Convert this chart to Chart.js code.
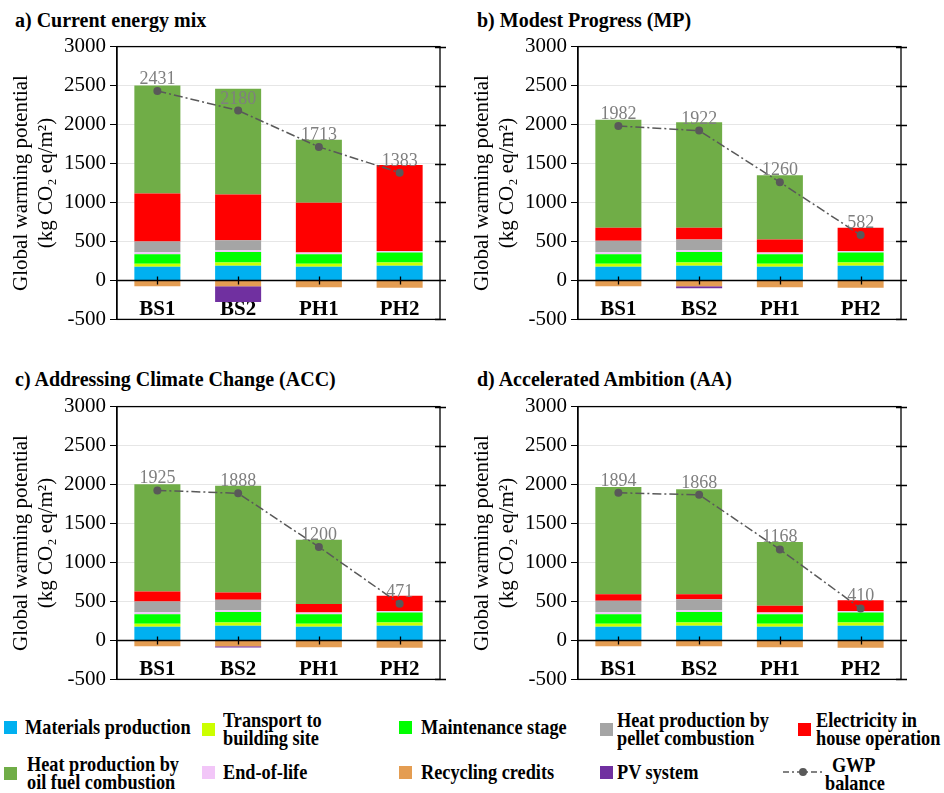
<!DOCTYPE html>
<html>
<head>
<meta charset="utf-8">
<script src="https://cdn.jsdelivr.net/npm/chart.js@4.4.1/dist/chart.umd.min.js"></script>
<style>
  body { margin: 0; background: #fff; }
  #page { position: relative; width: 944px; height: 793px; overflow: hidden;
          font-family: 'Liberation Serif', 'Times New Roman', serif; color: #000; }
  .title { position: absolute; font-weight: bold; font-size: 20px; line-height: 20px; white-space: nowrap; }
  canvas { position: absolute; }
  .lg { position: absolute; font-weight: bold; font-size: 21px; line-height: 18px; white-space: nowrap;
        transform: scaleX(0.87); transform-origin: 0 50%; }
  .sw { position: absolute; width: 13px; height: 13px; }
  svg { position: absolute; }
</style>
</head>
<body>
<div id="page">
  <div class="title" style="left:15px; top:10px;">a) Current energy mix</div>
  <div class="title" style="left:477px; top:10px;">b) Modest Progress (MP)</div>
  <div class="title" style="left:15px; top:369px;">c) Addressing Climate Change (ACC)</div>
  <div class="title" style="left:477px; top:369px;">d) Accelerated Ambition (AA)</div>
  <canvas id="panelA" width="450" height="306" style="left:0px; top:30px;"></canvas>
  <canvas id="panelB" width="450" height="306" style="left:461px; top:30px;"></canvas>
  <canvas id="panelC" width="450" height="306" style="left:0px; top:390px;"></canvas>
  <canvas id="panelD" width="450" height="306" style="left:461px; top:390px;"></canvas>
  <div id="legend"></div>
</div>
<script>
// Building variants on the x axis
const categories = ['BS1', 'BS2', 'PH1', 'PH2'];
const yTickValues = [-500, 0, 500, 1000, 1500, 2000, 2500, 3000];

// Life-cycle stages shared by every energy scenario (kg CO2 eq/m2)
const materialsProduction = [175, 188, 175, 188];
const transportToSite     = [40, 42, 40, 42];
const maintenanceStage    = [120, 135, 120, 128];
const endOfLife           = [25, 22, 22, 21];
const recyclingCredits    = [-76, -76, -88, -93];

// a) Current energy mix
const pelletCurrent      = [140, 130, 0, 0];
const electricityCurrent = [615, 585, 639, 1101];
const oilCurrent         = [1387, 1357, 810, 0];
const pvCurrent          = [0, -200, 0, 0];
const gwpCurrent         = [2431, 2180, 1713, 1383];

// b) Modest Progress
const pelletMP      = [148, 138, 0, 0];
const electricityMP = [169, 152, 168, 298];
const oilMP         = [1383, 1353, 825, 0];
const pvMP          = [0, -25, 0, 0];
const gwpMP         = [1982, 1922, 1260, 582];

// c) Addressing Climate Change
const pelletACC      = [140, 134, 0, 0];
const electricityACC = [127, 94, 109, 193];
const oilACC         = [1378, 1369, 827, 0];
const pvACC          = [0, -15, 0, 0];
const gwpACC         = [1925, 1888, 1200, 471];

// d) Accelerated Ambition
const pelletAA      = [148, 142, 0, 0];
const electricityAA = [84, 63, 87, 136];
const oilAA         = [1378, 1348, 818, 0];
const pvAA          = [0, 0, 0, 0];
const gwpAA         = [1894, 1868, 1168, 410];

const FONT = "'Liberation Serif', 'Times New Roman', serif";
const COLORS = {
  materials: '#00B0F0', transport: '#CCFF00', maintenance: '#00FF00',
  pellet: '#A5A5A5', electricity: '#FF0000', oil: '#70AD47',
  eol: '#F2C6F8', recycling: '#E49D52', pv: '#7030A0', gwp: '#595959'
};

function bar(label, data, color) {
  return { type: 'bar', label, data, backgroundColor: color, borderWidth: 0, stack: 'bars', order: 1 };
}

function buildDatasets(s) {
  return [
    bar('Materials production', materialsProduction, COLORS.materials),
    bar('Transport to building site', transportToSite, COLORS.transport),
    bar('Maintenance stage', maintenanceStage, COLORS.maintenance),
    bar('End-of-life', endOfLife, COLORS.eol),
    bar('Heat production by pellet combustion', s.pellet, COLORS.pellet),
    bar('Electricity in house operation', s.electricity, COLORS.electricity),
    bar('Heat production by oil fuel combustion', s.oil, COLORS.oil),
    bar('Recycling credits', recyclingCredits, COLORS.recycling),
    bar('PV system', s.pv, COLORS.pv),
    {
      type: 'line', label: 'GWP balance', data: s.gwp, stack: 'gwp', order: 0,
      borderColor: COLORS.gwp, borderWidth: 1.5, borderDash: [9, 3, 2, 3], tension: 0,
      pointRadius: 4, pointBackgroundColor: COLORS.gwp, pointBorderWidth: 0, fill: false
    }
  ];
}

// Box around the plot, zero line, crossing ticks on the right edge and at each category
const framePlugin = {
  id: 'frame',
  afterDraw(chart) {
    const { ctx, chartArea: a, scales: { x, y } } = chart;
    ctx.save();
    ctx.strokeStyle = '#000';
    ctx.lineWidth = 1.3;
    ctx.strokeRect(a.left, a.top, a.right - a.left, a.bottom - a.top);
    const y0 = Math.round(y.getPixelForValue(0)) + 0.5;
    ctx.beginPath();
    ctx.moveTo(a.left, y0); ctx.lineTo(a.right, y0);
    y.ticks.forEach(t => {
      const py = Math.round(y.getPixelForValue(t.value)) + 0.5;
      ctx.moveTo(a.right - 5, py); ctx.lineTo(a.right + 6, py);
    });
    x.ticks.forEach((t, i) => {
      const px = Math.round(x.getPixelForTick(i)) + 0.5;
      ctx.moveTo(px, y0 - 4); ctx.lineTo(px, y0 + 4);
    });
    ctx.stroke();
    ctx.restore();
  }
};

// Numeric GWP balance written above each point of the line
const valueLabelPlugin = {
  id: 'valueLabels',
  afterDatasetsDraw(chart) {
    const { ctx } = chart;
    chart.data.datasets.forEach((ds, di) => {
      if (ds.type !== 'line') return;
      const meta = chart.getDatasetMeta(di);
      ctx.save();
      ctx.font = '18px ' + FONT;
      ctx.fillStyle = '#7F7F7F';
      ctx.textAlign = 'center';
      ctx.textBaseline = 'alphabetic';
      meta.data.forEach((pt, i) => ctx.fillText(String(ds.data[i]), pt.x, pt.y - 7));
      ctx.restore();
    });
  }
};

function makePanel(id, series) {
  new Chart(document.getElementById(id), {
    type: 'bar',
    data: { labels: categories, datasets: buildDatasets(series) },
    options: {
      responsive: false, animation: false, devicePixelRatio: 1,
      layout: { padding: { top: 16, bottom: 16, left: 0, right: 10 } },
      plugins: { legend: { display: false }, tooltip: { enabled: false } },
      datasets: { bar: { barPercentage: 0.57, categoryPercentage: 1.0 } },
      scales: {
        x: {
          position: { y: 0 }, stacked: true,
          grid: { display: false, drawTicks: false },
          border: { display: false },
          ticks: { color: '#000', font: { family: FONT, size: 21, weight: 'bold' }, padding: 17, maxRotation: 0 }
        },
        y: {
          stacked: true, min: -500, max: 3000,
          afterBuildTicks: s => { s.ticks = yTickValues.map(v => ({ value: v })); },
          afterFit: s => { s.width = 117; },
          ticks: { color: '#000', font: { family: FONT, size: 21 }, padding: 4, callback: v => String(v) },
          grid: { color: '#E6E6E6', lineWidth: 1, tickColor: '#000', tickLength: 7 },
          border: { display: true, color: '#000', width: 1.3 },
          title: {
            display: true, color: '#000',
            text: ['Global warming potential', '(kg CO\u2082 eq/m\u00B2)'],
            font: { family: FONT, size: 21 }, padding: { top: 9, bottom: 0 }
          }
        }
      }
    },
    plugins: [framePlugin, valueLabelPlugin]
  });
}

makePanel('panelA', { pellet: pelletCurrent, electricity: electricityCurrent, oil: oilCurrent, pv: pvCurrent, gwp: gwpCurrent });
makePanel('panelB', { pellet: pelletMP, electricity: electricityMP, oil: oilMP, pv: pvMP, gwp: gwpMP });
makePanel('panelC', { pellet: pelletACC, electricity: electricityACC, oil: oilACC, pv: pvACC, gwp: gwpACC });
makePanel('panelD', { pellet: pelletAA, electricity: electricityAA, oil: oilAA, pv: pvAA, gwp: gwpAA });

// Shared legend below the four panels
const legendItems = [
  { lines: ['Materials production'], color: COLORS.materials, sx: 4, tx: 25, cy: 727 },
  { lines: ['Transport to', 'building site'], color: COLORS.transport, sx: 202, tx: 223, cy: 729 },
  { lines: ['Maintenance stage'], color: COLORS.maintenance, sx: 399, tx: 421, cy: 727 },
  { lines: ['Heat production by', 'pellet combustion'], color: COLORS.pellet, sx: 600, tx: 617, cy: 729 },
  { lines: ['Electricity in', 'house operation'], color: COLORS.electricity, sx: 798, tx: 816, cy: 729 },
  { lines: ['Heat production by', 'oil fuel combustion'], color: COLORS.oil, sx: 4, tx: 27, cy: 773 },
  { lines: ['End-of-life'], color: COLORS.eol, sx: 202, tx: 223, cy: 772 },
  { lines: ['Recycling credits'], color: COLORS.recycling, sx: 399, tx: 421, cy: 772 },
  { lines: ['PV system'], color: COLORS.pv, sx: 600, tx: 617, cy: 772 }
];
const legend = document.getElementById('legend');
legendItems.forEach(it => {
  const sw = document.createElement('div');
  sw.className = 'sw';
  sw.style.left = it.sx + 'px';
  sw.style.top = (it.cy - 6.5) + 'px';
  sw.style.background = it.color;
  legend.appendChild(sw);
  const tx = document.createElement('div');
  tx.className = 'lg';
  tx.style.left = it.tx + 'px';
  tx.style.top = (it.cy - it.lines.length * 9) + 'px';
  tx.innerHTML = it.lines.join('<br>');
  legend.appendChild(tx);
});
// GWP balance entry: dash-dot line with a marker
const ns = 'http://www.w3.org/2000/svg';
const svg = document.createElementNS(ns, 'svg');
svg.setAttribute('width', '40'); svg.setAttribute('height', '16');
svg.style.left = '783px'; svg.style.top = '764px';
svg.innerHTML = '<line x1="0" y1="8" x2="40" y2="8" stroke="' + COLORS.gwp + '" stroke-width="1.5" stroke-dasharray="6 3 2 3"/>' +
                '<circle cx="20" cy="8" r="4" fill="' + COLORS.gwp + '"/>';
legend.appendChild(svg);
const gwpText = document.createElement('div');
gwpText.className = 'lg';
gwpText.style.left = '825px';
gwpText.style.top = '756px';
gwpText.style.textAlign = 'center';
gwpText.style.width = '66px';
gwpText.innerHTML = 'GWP<br>balance';
legend.appendChild(gwpText);
</script>
</body>
</html>
